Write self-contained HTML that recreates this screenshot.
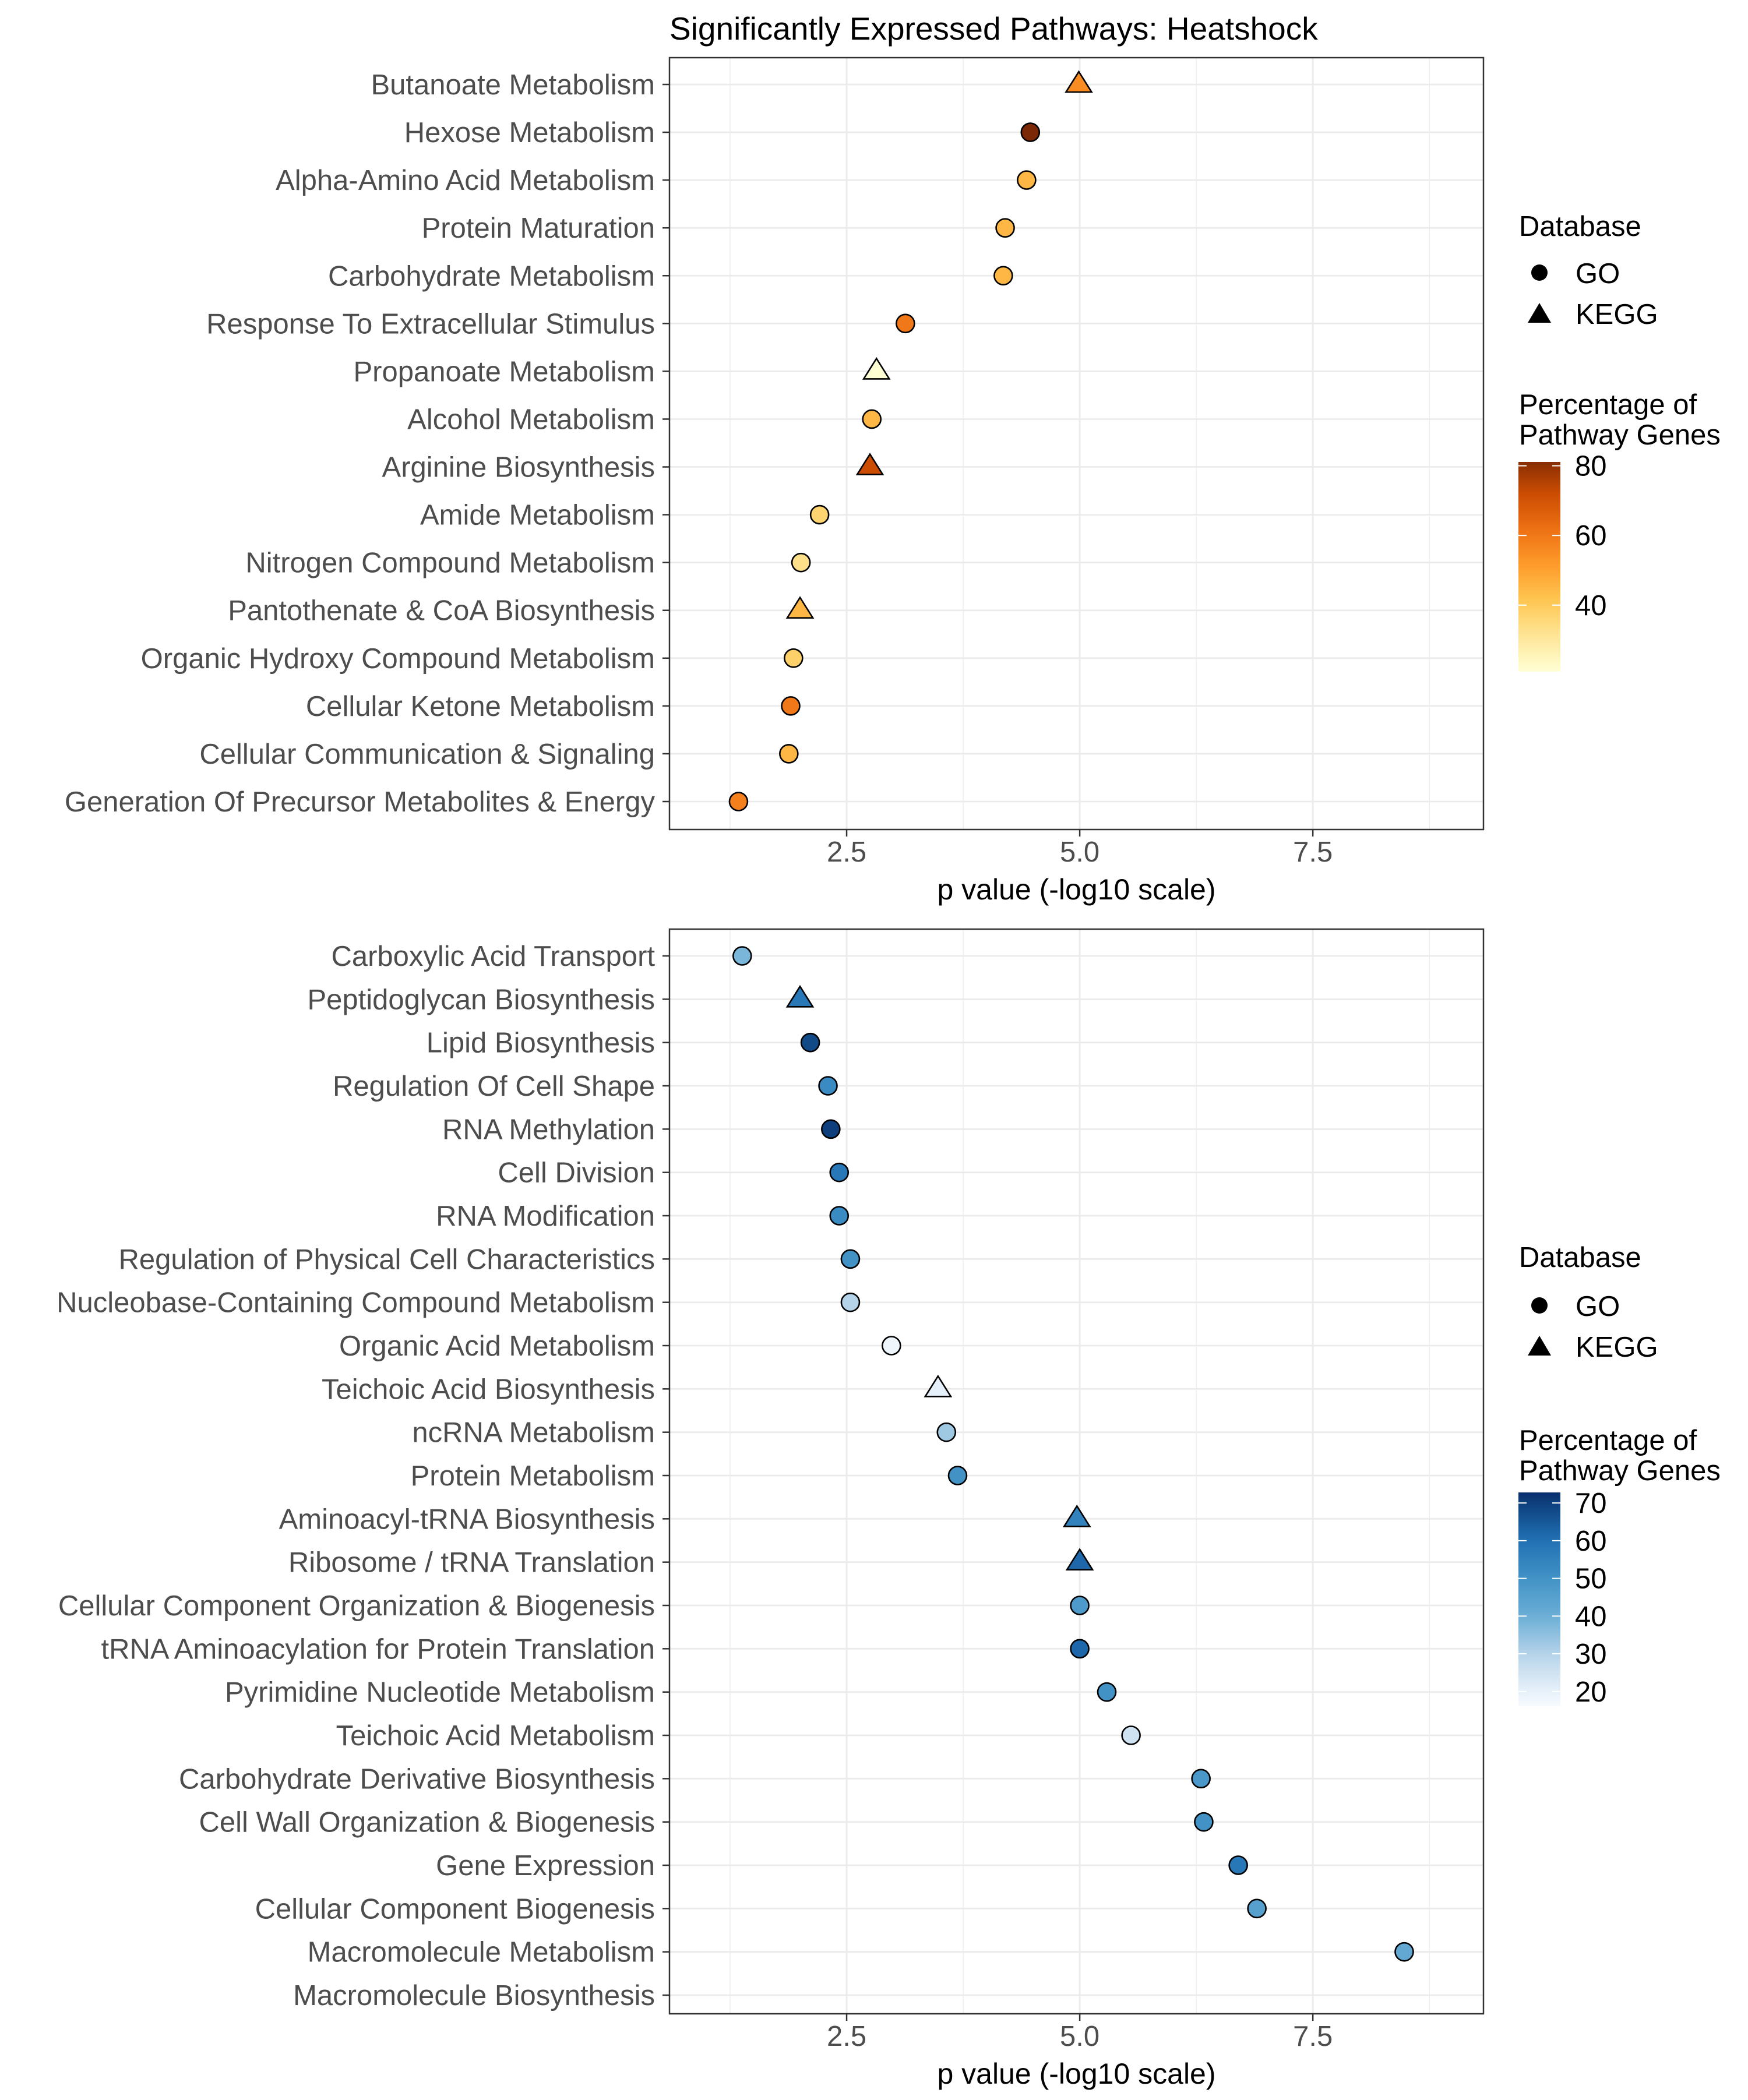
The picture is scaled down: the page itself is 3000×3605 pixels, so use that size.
<!DOCTYPE html>
<html><head><meta charset="utf-8"><style>
body{margin:0;background:#fff}
svg text{font-family:"Liberation Sans",Arial,sans-serif}
</style></head><body>
<svg id="chart" width="3000" height="3600" xmlns="http://www.w3.org/2000/svg">
<rect width="3000" height="3600" fill="#fff"/>
<text x="1149" y="68" font-size="55" fill="#000">Significantly Expressed Pathways: Heatshock</text>
<g id="top"></g><g id="bot"></g>
</svg>
<script>
// ---- Top panel data ----
const topCats = ["Butanoate Metabolism","Hexose Metabolism","Alpha-Amino Acid Metabolism","Protein Maturation","Carbohydrate Metabolism","Response To Extracellular Stimulus","Propanoate Metabolism","Alcohol Metabolism","Arginine Biosynthesis","Amide Metabolism","Nitrogen Compound Metabolism","Pantothenate & CoA Biosynthesis","Organic Hydroxy Compound Metabolism","Cellular Ketone Metabolism","Cellular Communication & Signaling","Generation Of Precursor Metabolites & Energy"];
const topP = [4.99,4.47,4.43,4.20,4.18,3.13,2.82,2.77,2.75,2.21,2.01,2.0,1.93,1.90,1.88,1.34];
const topPct = [55,83,45,45,45,60,21,45,72,37,33,45,38,60,45,58];
const topDb = ["KEGG","GO","GO","GO","GO","GO","KEGG","GO","KEGG","GO","GO","KEGG","GO","GO","GO","GO"];
// ---- Bottom panel data ----
const botCats = ["Carboxylic Acid Transport","Peptidoglycan Biosynthesis","Lipid Biosynthesis","Regulation Of Cell Shape","RNA Methylation","Cell Division","RNA Modification","Regulation of Physical Cell Characteristics","Nucleobase-Containing Compound Metabolism","Organic Acid Metabolism","Teichoic Acid Biosynthesis","ncRNA Metabolism","Protein Metabolism","Aminoacyl-tRNA Biosynthesis","Ribosome / tRNA Translation","Cellular Component Organization & Biogenesis","tRNA Aminoacylation for Protein Translation","Pyrimidine Nucleotide Metabolism","Teichoic Acid Metabolism","Carbohydrate Derivative Biosynthesis","Cell Wall Organization & Biogenesis","Gene Expression","Cellular Component Biogenesis","Macromolecule Metabolism","Macromolecule Biosynthesis"];
const botP = [1.38,2.0,2.11,2.30,2.33,2.42,2.42,2.54,2.54,2.98,3.48,3.57,3.69,4.97,5.0,5.0,5.0,5.29,5.55,6.30,6.33,6.70,6.90,8.48,null];
const botPct = [38,58,68,52,70,58,52,50,30,18,20,33,50,55,62,47,62,50,25,48,50,58,45,42,null];
const botDb = ["GO","KEGG","GO","GO","GO","GO","GO","GO","GO","GO","KEGG","GO","GO","KEGG","KEGG","GO","GO","GO","GO","GO","GO","GO","GO","GO","GO"];
const xTicks = [2.5,5.0,7.5];
const xTickLabels = ["2.5","5.0","7.5"];
const topLegTicks = [40,60,80];
const botLegTicks = [20,30,40,50,60,70];

const NS="http://www.w3.org/2000/svg";
function mk(parent,tag,attrs){const e=document.createElementNS(NS,tag);for(const k in attrs)e.setAttribute(k,attrs[k]);parent.appendChild(e);return e;}
const X0=1149,X1=2546,DMIN=0.6,DMAX=9.33;
const xs=v=>X0+(v-DMIN)/(DMAX-DMIN)*(X1-X0);
function hex(c){return [1,3,5].map(i=>parseInt(c.substr(i,2),16));}
function interp(stops,v){
  if(v<=stops[0][0])return stops[0][1];
  for(let i=1;i<stops.length;i++){if(v<=stops[i][0]){const [a,ca]=stops[i-1],[b,cb]=stops[i];const t=(v-a)/(b-a);const A=hex(ca),B=hex(cb);return "rgb("+A.map((x,j)=>Math.round(x+(B[j]-x)*t)).join(",")+")";}}
  return stops[stops.length-1][1];
}
const orStops=[[21,"#ffffd4"],[32,"#fee391"],[42,"#fec44f"],[52,"#fe9929"],[62,"#ec7014"],[72,"#cc4c02"],[83,"#7a2805"]];
const blStops=[[16,"#f7fbff"],[22,"#deebf7"],[30,"#b5d3e9"],[40,"#6baed6"],[50,"#4292c6"],[60,"#2171b5"],[73,"#08306b"]];

function panel(g,name,cats,P,Pct,Db,Y0,Y1,yFirst,yLast,stops,leg){
  const n=cats.length,step=(yLast-yFirst)/(n-1),ys=i=>yFirst+i*step;
  const gg=mk(g,"g",{});
  
  
  [1.25,3.75,6.25,8.75].forEach(v=>mk(gg,"line",{x1:xs(v),x2:xs(v),y1:Y0,y2:Y1,stroke:"#ebebeb","stroke-width":1.3}));
  xTicks.forEach(v=>mk(gg,"line",{x1:xs(v),x2:xs(v),y1:Y0,y2:Y1,stroke:"#ebebeb","stroke-width":2.8}));
  cats.forEach((c,i)=>{
    mk(gg,"line",{x1:X0,x2:X1,y1:ys(i),y2:ys(i),stroke:"#ebebeb","stroke-width":2.8});
    mk(gg,"line",{x1:X0-12,x2:X0,y1:ys(i),y2:ys(i),stroke:"#333","stroke-width":2.5});
    const t=mk(gg,"text",{x:X0-25,y:ys(i)+17,"font-size":49,fill:"#4d4d4d","text-anchor":"end"});t.textContent=c;
    
    
  });
  mk(gg,"rect",{x:X0,y:Y0,width:X1-X0,height:Y1-Y0,fill:"none",stroke:"#333","stroke-width":2.5});
  xTicks.forEach((v,i)=>{
    mk(gg,"line",{x1:xs(v),x2:xs(v),y1:Y1,y2:Y1+12,stroke:"#333","stroke-width":2.5});
    const t=mk(gg,"text",{x:xs(v),y:Y1+55,"font-size":49,fill:"#4d4d4d","text-anchor":"middle"});t.textContent=xTickLabels[i];
    
    
  });
  const xl=mk(gg,"text",{x:(X0+X1)/2,y:Y1+120,"font-size":50,fill:"#000","text-anchor":"middle"});xl.textContent="p value (-log10 scale)";
  
  
  cats.forEach((c,i)=>{
    if(P[i]==null)return;
    const x=xs(P[i]),y=ys(i),col=interp(stops,Pct[i]);
    let m;
    if(Db[i]==="KEGG"){const r=22;m=mk(gg,"polygon",{points:`${x},${y-r} ${x+r},${y+13} ${x-r},${y+13}`,fill:col,stroke:"#000","stroke-width":2.6});}
    else m=mk(gg,"circle",{cx:x,cy:y,r:15.5,fill:col,stroke:"#000","stroke-width":2.6});
    
    
  });
  // legend
  const L=mk(gg,"g",{});
  
  
  let t=mk(L,"text",{x:2607,y:leg.db+17,"font-size":49,fill:"#000"});t.textContent="Database";
  mk(L,"circle",{cx:2642,cy:leg.go,r:14,fill:"#000"});
  t=mk(L,"text",{x:2704,y:leg.go+18,"font-size":49,fill:"#000"});t.textContent="GO";
  mk(L,"polygon",{points:`2642,${leg.kegg-18} 2662,${leg.kegg+16} 2622,${leg.kegg+16}`,fill:"#000"});
  t=mk(L,"text",{x:2704,y:leg.kegg+18,"font-size":49,fill:"#000"});t.textContent="KEGG";
  t=mk(L,"text",{x:2607,y:leg.t1+19,"font-size":49,fill:"#000"});t.textContent="Percentage of";
  t=mk(L,"text",{x:2607,y:leg.t1+71,"font-size":49,fill:"#000"});t.textContent="Pathway Genes";
  const id="grad"+name;
  const defs=mk(L,"defs",{});const lg=mk(defs,"linearGradient",{id:id,x1:0,y1:1,x2:0,y2:0});
  for(let k=0;k<=20;k++){const v=leg.lo+(leg.hi-leg.lo)*k/20;mk(lg,"stop",{offset:k/20,"stop-color":interp(stops,v)});}
  mk(L,"rect",{x:2606,y:leg.by0,width:72,height:leg.by1-leg.by0,fill:`url(#${id})`});
  const vy=v=>leg.by1-(v-leg.lo)/(leg.hi-leg.lo)*(leg.by1-leg.by0);
  leg.ticks.forEach(v=>{
    mk(L,"line",{x1:2606,x2:2620,y1:vy(v),y2:vy(v),stroke:"#fff","stroke-width":2});
    mk(L,"line",{x1:2664,x2:2678,y1:vy(v),y2:vy(v),stroke:"#fff","stroke-width":2});
    const tt=mk(L,"text",{x:2703,y:vy(v)+17,"font-size":49,fill:"#000"});tt.textContent=v;
  });
}
panel(document.getElementById("top"),"top",topCats,topP,topPct,topDb,99,1424,145,1376,orStops,
  {db:388,go:468,kegg:538,t1:692,by0:793,by1:1153,lo:20.9,hi:81.1,ticks:topLegTicks});
panel(document.getElementById("bot"),"bottom",botCats,botP,botPct,botDb,1595,3457,1641,3425,blStops,
  {db:2158,go:2241,kegg:2311,t1:2470,by0:2562,by1:2929,lo:16.1,hi:72.8,ticks:botLegTicks});
</script>
</body></html>
